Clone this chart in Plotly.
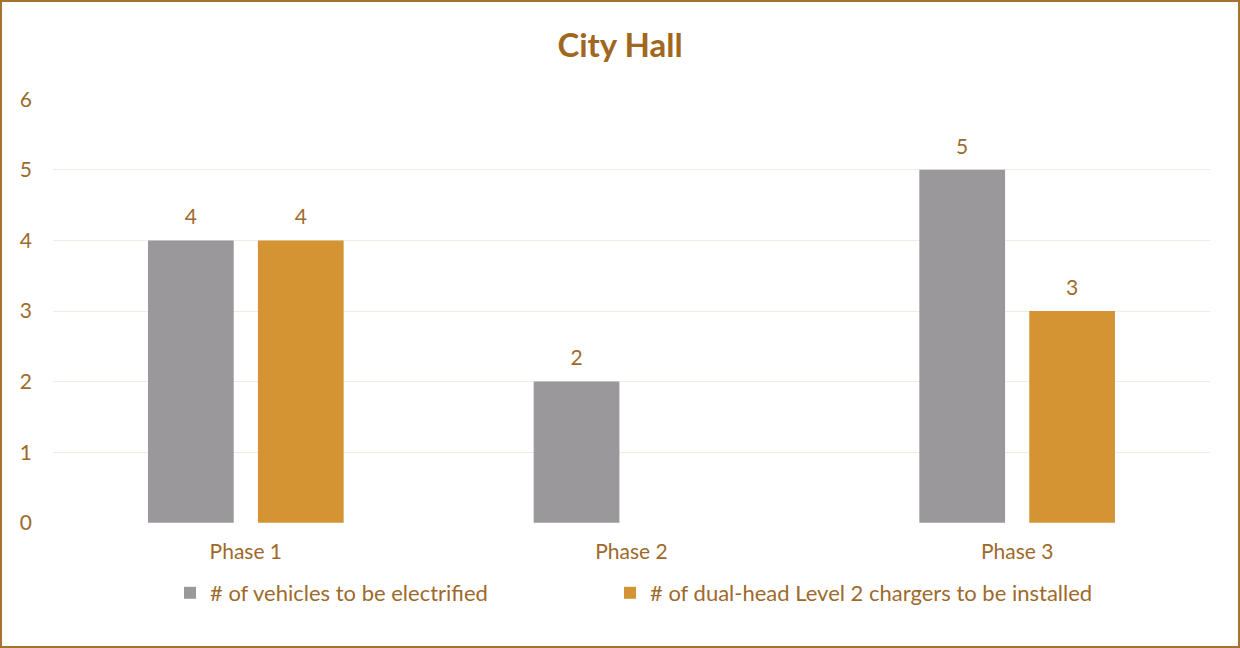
import plotly.graph_objects as go

categories = ["Phase 1", "Phase 2", "Phase 3"]
vehicles = [4, 2, 5]
chargers = [4, None, 3]
series_names = ["# of vehicles to be electrified",
                "# of dual-head Level 2 chargers to be installed"]
y_ticks = [0, 1, 2, 3, 4, 5, 6]

TEXT = "#9E6A2C"
FONT = "Lato"
W, H = 1240, 648
ML, MR, MT, MB = 53, 30, 99, 125
pw = W - ML - MR
ph = H - MT - MB

def lbl(vals):
    return ["" if v is None else str(v) for v in vals]

fig = go.Figure()
for vals, name, color, grp, leg in [
        (vehicles, series_names[0], "#9A989A", "a", "legend"),
        (chargers, series_names[1], "#D49433", "b", "legend2")]:
    fig.add_trace(go.Bar(x=categories, y=vals, name=name,
                         marker=dict(color=color, line=dict(width=0)),
                         offsetgroup=grp, alignmentgroup="g", legend=leg))
    fig.add_trace(go.Scatter(x=categories, y=vals, mode="markers+text",
                             text=lbl(vals), textposition="top center",
                             marker=dict(size=16, opacity=0),
                             textfont=dict(color=TEXT, size=21, family=FONT),
                             offsetgroup=grp, alignmentgroup="g",
                             showlegend=False, hoverinfo="skip",
                             cliponaxis=False))

leg_y = -(593 - (MT + ph)) / ph
fig.update_layout(
    width=W, height=H,
    margin=dict(l=ML, r=MR, t=MT, b=MB),
    paper_bgcolor="white", plot_bgcolor="white",
    barmode="group", bargap=0.43, bargroupgap=0.22,
    scattermode="group", scattergap=0.43,
    title=dict(text="<b>City Hall</b>", x=0.5, xanchor="center",
               y=1 - 45 / H, yanchor="middle",
               font=dict(family=FONT, size=33, color="#A0671F")),
    font=dict(family=FONT, size=21, color=TEXT),
    xaxis=dict(showgrid=False, showline=False, zeroline=False,
               ticks="", ticklabelstandoff=14,
               tickfont=dict(size=21, color=TEXT, family=FONT)),
    yaxis=dict(range=[-0.004, 6.004], tickvals=y_ticks, showgrid=True,
               gridcolor="#EEEDE3", gridwidth=1, zeroline=False,
               showline=False, ticks="", ticklabelstandoff=20,
               tickfont=dict(size=21, color=TEXT, family=FONT)),
    legend=dict(orientation="h", x=(170 - ML) / pw, xanchor="left",
                y=leg_y, yanchor="middle",
                font=dict(size=22, color=TEXT, family=FONT),
                itemwidth=30),
    legend2=dict(orientation="h", x=(610 - ML) / pw, xanchor="left",
                 y=leg_y, yanchor="middle",
                 font=dict(size=22, color=TEXT, family=FONT),
                 itemwidth=30),
    showlegend=True,
)
fig.add_shape(type="rect", xref="paper", yref="paper",
              x0=-(ML - 1) / pw, x1=1 + (MR - 1) / pw,
              y0=-(MB - 1) / ph, y1=1 + (MT - 1) / ph,
              line=dict(color="#A5732F", width=2), fillcolor="rgba(0,0,0,0)",
              layer="above")

fig.write_html("out.html", config={"displayModeBar": False},
               post_script="document.body.style.margin='0';document.body.style.overflow='hidden';")
